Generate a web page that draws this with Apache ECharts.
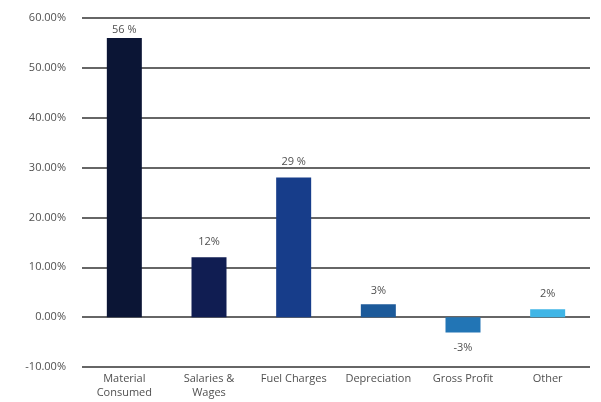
<!DOCTYPE html>
<html><head><meta charset="utf-8">
<script src="https://cdn.jsdelivr.net/npm/echarts@6/dist/echarts.min.js"></script>
<style>html,body{margin:0;padding:0;background:#fff}#c{width:601px;height:402px}</style>
</head><body><div id="c"></div>
<script>
var categories = ['Material\nConsumed', 'Salaries &\nWages', 'Fuel Charges', 'Depreciation', 'Gross Profit', 'Other'];
var values = [56, 12, 28, 2.6, -3.1, 1.6];
var valueLabels = ['56 %', '12%', '29 %', '3%', '-3%', '2%'];
var barColors = ['#0b1535', '#101d52', '#173d8a', '#1c5a9a', '#2275b5', '#3fb5e6'];
var labelGaps = [3, 10, 10, 8, 10, 10];

var chart = echarts.init(document.getElementById('c'), null, {renderer: 'canvas'});
chart.setOption({
  animation: false,
  backgroundColor: '#ffffff',
  grid: {left: 82, right: 11, top: 18, bottom: 35, containLabel: false},
  xAxis: {
    type: 'category',
    data: categories,
    axisLine: {show: false},
    axisTick: {show: false},
    axisLabel: {color: '#505050', fontFamily: 'Open Sans', fontSize: 11, lineHeight: 14, margin: 5, interval: 0}
  },
  yAxis: {
    type: 'value',
    min: -10, max: 60, interval: 10,
    axisLine: {show: false},
    axisTick: {show: false},
    axisLabel: {color: '#505050', fontFamily: 'Open Sans', fontSize: 11, margin: 16,
      formatter: function(v){ return v.toFixed(2) + '%'; }},
    splitLine: {lineStyle: {color: '#333', width: 1.5}}
  },
  series: [{
    type: 'bar',
    barWidth: 35,
    data: values.map(function(v, i){
      return {value: v, itemStyle: {color: barColors[i]},
        label: {position: v < 0 ? 'bottom' : 'top', distance: labelGaps[i]}};
    }),
    label: {
      show: true, color: '#505050', fontFamily: 'Open Sans', fontSize: 11,
      formatter: function(p){ return valueLabels[p.dataIndex]; }
    }
  }]
});
</script></body></html>
